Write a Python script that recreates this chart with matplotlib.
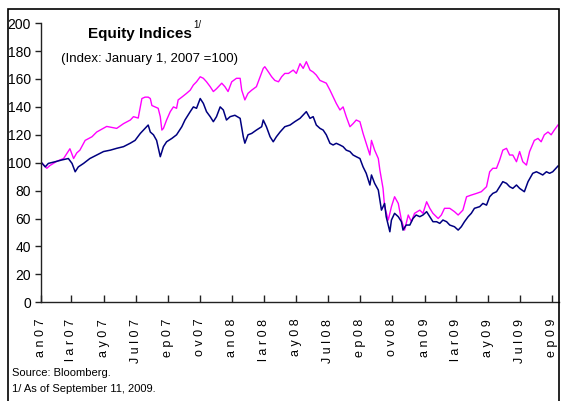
import numpy as np
import pandas as pd
import matplotlib
matplotlib.use('Agg')
import matplotlib.pyplot as plt
from matplotlib.patches import Rectangle
from matplotlib.transforms import ScaledTranslation

plt.rcParams['font.family'] = ['Liberation Sans', 'DejaVu Sans']

start = pd.Timestamp('2007-01-01')

# values (days counted from 1 Jan 2007, index 1 Jan 2007 = 100)
magenta_days = [2, 12, 18, 31, 44, 56, 63, 69, 75, 85, 98, 107, 126, 145, 158, 171, 177, 186,
                193, 199, 205, 209, 212, 218, 224, 228, 231, 234, 240, 247, 253, 259, 262, 269,
                278, 285, 291, 297, 304, 310, 316, 323, 329, 335, 345, 351, 357, 364, 373, 380,
                383, 389, 395, 402, 411, 418, 424, 427, 434, 440, 446, 453, 459, 465, 472, 481,
                487, 494, 500, 506, 513, 519, 525, 532, 538, 544, 551, 557, 563, 570, 576, 582,
                589, 595, 601, 608, 614, 620, 627, 630, 636, 643, 646, 652, 655, 662, 668, 674,
                681, 687, 693, 700, 706, 712, 722, 728, 735, 741, 747, 757, 763, 769, 779, 788,
                795, 804, 811, 820, 830, 839, 849, 855, 861, 868, 874, 880, 887, 893, 899, 906,
                912, 918, 925, 931, 940, 947, 953, 959, 966, 972, 978, 985]
magenta_vals = [100, 96, 98, 101, 103, 110, 103, 107, 109, 116, 118.6, 122, 126, 124.6, 128, 130.6, 133, 132,
                146, 147, 147, 146, 141, 140, 139, 133, 123.4, 124.6, 130.6, 136.6, 140, 139, 145, 147,
                149.7, 152, 155.7, 158, 161.6, 160.5, 158, 154.5, 151, 153, 157, 154.5, 151, 158, 160.5, 160.5,
                152, 145, 149.7, 152, 154.5, 161.6, 167.6, 168.8, 165, 161.6, 159, 158, 161.6, 164, 164, 166.4,
                164, 171, 167.6, 172.4, 166.4, 165, 162.8, 159, 158, 157, 152, 147.3, 142.5, 137.8, 140, 133,
                125.8, 128, 130.6, 129.4, 121, 113.9, 105.5, 116, 109, 103, 94.7, 81.6, 68.5, 58.9, 68.5, 75.6,
                70.8, 58.9, 51.7, 62.5, 57.7, 63.7, 66, 63.7, 72, 67.3, 63.7, 60, 62.5, 67.3, 67.3, 64.9,
                62.5, 66, 75.6, 76.8, 78, 79.2, 82.8, 93.5, 96, 96, 101.9, 109, 110.3, 105.5, 105.5, 100.7,
                108, 100.7, 98.3, 108, 116, 117.4, 115, 120, 122, 120, 123.4, 127]

navy_days = [2, 9, 15, 28, 41, 53, 60, 66, 72, 82, 94, 107, 120, 133, 145, 158, 171, 180, 190,
             199, 205, 209, 215, 221, 228, 234, 240, 250, 259, 269, 275, 285, 291, 297, 304, 310,
             316, 323, 329, 335, 342, 348, 354, 361, 370, 380, 386, 389, 395, 402, 411, 421, 424,
             430, 437, 443, 449, 456, 465, 475, 484, 494, 506, 513, 519, 525, 532, 538, 544, 551,
             557, 563, 570, 576, 582, 589, 595, 601, 608, 614, 620, 627, 630, 636, 643, 649, 655,
             658, 665, 668, 674, 681, 687, 690, 696, 703, 709, 715, 722, 728, 735, 741, 747, 754,
             760, 766, 773, 779, 788, 795, 801, 807, 814, 820, 826, 836, 842, 849, 855, 861, 868,
             874, 880, 887, 893, 899, 906, 912, 921, 928, 937, 944, 950, 956, 963, 969, 975, 981, 985]
navy_vals = [100, 97, 99.5, 100.7, 102, 103, 99.5, 93.5, 97, 99.5, 103, 105.5, 108, 109, 110.3, 111.5, 114, 116, 121,
             124.6, 127, 122, 120, 116, 104.3, 111.5, 115, 117.4, 120, 125.8, 130.6, 136.6, 140, 139, 146, 142.5,
             136.6, 133, 129.4, 133, 140, 137.8, 130.6, 133, 134, 131.8, 118.6, 114, 120, 121, 123.4, 125.8, 130.6,
             125.8, 118.6, 115, 118.6, 122, 125.8, 127, 129.4, 131.8, 136.6, 131.8, 133, 127, 124.6, 123.4, 120, 113.9,
             112.7, 113.9, 112.7, 111.5, 109, 108, 105.5, 104.3, 103, 97, 92.4, 84, 91.2, 85.2, 80.4, 66, 70.8,
             61.3, 50.5, 58.9, 63.7, 61.3, 57.7, 51.7, 55.3, 55.3, 60, 62.5, 61.3, 62.5, 64.9, 61.3, 57.7, 57.7,
             56.5, 58.9, 57.7, 55.3, 54.1, 51.7, 54.1, 57.7, 61.3, 63.7, 67.3, 68.5, 70.8, 69.6, 75.6, 78, 79.2,
             82.8, 86.4, 85.2, 82.8, 81.6, 84, 81.6, 79.2, 86.4, 92.4, 93.5, 92.4, 91.2, 93.5, 92.4, 93.5, 96, 97.6]

tick_dates = pd.date_range('2007-01-01', '2009-09-01', freq='2MS')
tick_labels = ['a n 0 7', 'l a r 0 7', 'a y 0 7', 'J u l 0 7', 'e p 0 7', 'o v 0 7',
               'a n 0 8', 'l a r 0 8', 'a y 0 8', 'J u l 0 8', 'e p 0 8', 'o v 0 8',
               'a n 0 9', 'l a r 0 9', 'a y 0 9', 'J u l 0 9', 'e p 0 9']
y_ticks = list(range(0, 201, 20))

W, H = 565, 401
fig = plt.figure(figsize=(W / 100, H / 100), dpi=100)
ax = fig.add_axes([40.5 / W, 1 - 302.2 / H, 518 / W, 279 / H])

md = start + pd.to_timedelta(magenta_days, unit='D')
nd = start + pd.to_timedelta(navy_days, unit='D')
ax.plot(md, magenta_vals, color='#FF00FF', lw=1.0)
ax.plot(nd, navy_vals, color='#000080', lw=1.1)

ax.set_xlim(start, start + pd.Timedelta(days=986))
ax.set_ylim(0, 200)
ax.set_yticks(y_ticks)
ax.set_xticks(tick_dates)
ax.set_xticklabels(tick_labels, rotation=90, va='top', ha='center', fontsize=9)
for lab in ax.get_xticklabels():
    lab.set_transform(lab.get_transform() + ScaledTranslation(3 / 100, 0, fig.dpi_scale_trans))

for s in ['top', 'right']:
    ax.spines[s].set_visible(False)
for s in ['left', 'bottom']:
    ax.spines[s].set_color('#222222')
    ax.spines[s].set_linewidth(1.0)
ax.tick_params(axis='y', direction='out', length=4, width=1, color='#222222', labelsize=10, pad=3)
ax.tick_params(axis='x', direction='in', length=5, width=1, color='#222222', pad=12)

title = fig.text(88 / W, 1 - 38.3 / H, 'Equity Indices', fontsize=11, fontweight='bold', va='baseline')
fig.canvas.draw()
bb = title.get_window_extent()
fig.text((bb.x1 + 1) / W, 1 - 28 / H, '1/', fontsize=7, va='baseline')
fig.text(61 / W, 1 - 61.7 / H, '(Index: January 1, 2007 =100)', fontsize=9.5, va='baseline')

fig.text(12 / W, 1 - 376 / H, 'Source: Bloomberg.', fontsize=8, va='baseline')
fig.text(12 / W, 1 - 392 / H, '1/ As of September 11, 2009.', fontsize=8, va='baseline')

fig.patches.append(Rectangle((8 / W, -0.01), 551 / W, 1 - 9 / H + 0.01, transform=fig.transFigure,
                             fill=False, edgecolor='black', lw=1.2))

fig.savefig('out.png', dpi=100)
